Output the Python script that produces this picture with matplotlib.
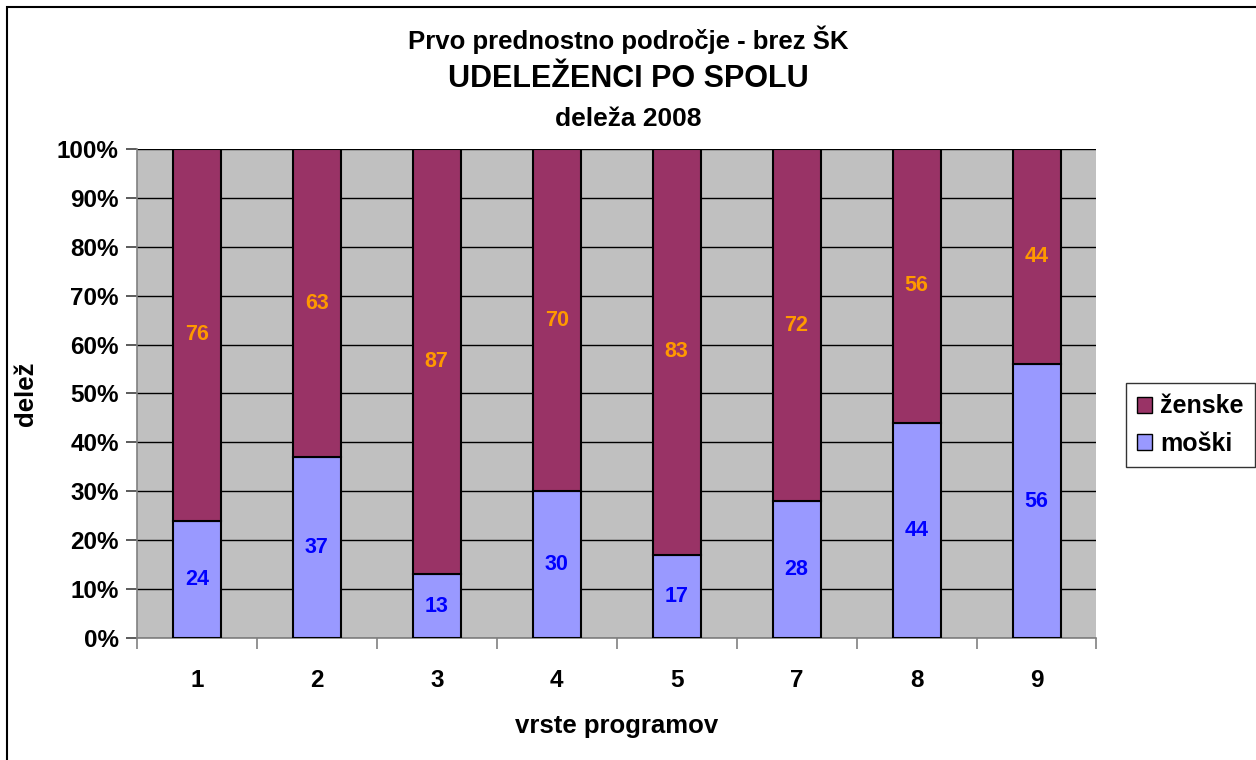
import numpy as np
from matplotlib import pyplot as plt
from matplotlib.patches import Rectangle
from matplotlib.ticker import PercentFormatter

plt.rcParams['font.family'] = ['Liberation Sans', 'DejaVu Sans']
plt.rcParams['font.weight'] = 'bold'

categories = ['1', '2', '3', '4', '5', '7', '8', '9']
moski = [24, 37, 13, 30, 17, 28, 44, 56]
zenske = [76, 63, 87, 70, 83, 72, 56, 44]

MOSKI_COLOR = '#9999FF'
ZENSKE_COLOR = '#993366'


def main():
    m = np.array(moski, dtype=float)
    z = np.array(zenske, dtype=float)
    total = m + z
    m_share = m / total * 100
    z_share = z / total * 100
    x = np.arange(len(categories))

    fig = plt.figure(figsize=(12.56, 7.6), dpi=100)
    ax = fig.add_axes([0.109, 0.1605, 0.764, 0.6435])
    ax.set_facecolor('#C0C0C0')

    # stolpci
    b1 = ax.bar(x, m_share, width=0.4, color=MOSKI_COLOR, edgecolor='black',
                linewidth=1.5, label='moški', zorder=3)
    b2 = ax.bar(x, z_share, width=0.4, bottom=m_share, color=ZENSKE_COLOR,
                edgecolor='black', linewidth=1.5, label='ženske', zorder=3)

    # oznake vrednosti
    for xi, ms, zs, mv, zv in zip(x, m_share, z_share, moski, zenske):
        ax.text(xi, ms / 2, str(mv), ha='center', va='center',
                color='#0000FF', fontsize=15.5, fontweight='bold', zorder=4)
        ax.text(xi, ms + zs / 2, str(zv), ha='center', va='center',
                color='#FF9900', fontsize=15.5, fontweight='bold', zorder=4)

    ax.set_xlim(-0.5, len(categories) - 0.5)
    ax.set_ylim(0, 100)
    ax.set_yticks(np.arange(0, 101, 10))
    ax.yaxis.set_major_formatter(PercentFormatter(decimals=0))
    ax.yaxis.grid(True, color='black', linewidth=1.0, zorder=1)
    ax.set_axisbelow(True)

    ax.set_xticks(x)
    ax.set_xticklabels(categories)
    ax.set_xticks(np.arange(-0.5, len(categories), 1), minor=True)
    ax.tick_params(axis='x', which='major', length=0, pad=22, labelsize=17.5)
    ax.tick_params(axis='x', which='minor', length=8, color='#808080', width=1.2)
    ax.tick_params(axis='y', length=8, color='#404040', width=1.2, labelsize=17.5, pad=5)

    for side in ['top', 'right']:
        ax.spines[side].set_visible(False)
    ax.spines['left'].set_color('#808080')
    ax.spines['bottom'].set_color('#808080')
    ax.spines['left'].set_linewidth(1.2)
    ax.spines['bottom'].set_linewidth(1.2)

    ax.set_xlabel('vrste programov', fontsize=18.5, fontweight='bold', labelpad=16)
    ax.set_ylabel('delež', fontsize=18.5, fontweight='bold', labelpad=14)

    fig.text(0.5, 0.948, 'Prvo prednostno področje - brez ŠK', ha='center',
             va='center', fontsize=18.5, fontweight='bold')
    fig.text(0.5, 0.896, 'UDELEŽENCI PO SPOLU', ha='center', va='center',
             fontsize=22, fontweight='bold')
    fig.text(0.5, 0.843, 'deleža 2008', ha='center', va='center',
             fontsize=19, fontweight='bold')

    leg = ax.legend(handles=[b2, b1], labels=['ženske', 'moški'],
                    loc='center left', bbox_to_anchor=(1.031, 0.435),
                    fontsize=18, frameon=True, fancybox=False,
                    handlelength=0.6, handleheight=0.6, handletextpad=0.3,
                    borderpad=0.45, labelspacing=0.55, borderaxespad=0)
    leg.get_frame().set_edgecolor('black')
    leg.get_frame().set_linewidth(1.0)
    for h in leg.legend_handles:
        h.set_linewidth(1.0)

    # okvir grafikona
    fig.patches.append(Rectangle((7 / 1256, -0.02), 1.1, 1.02 - 7 / 760,
                                 transform=fig.transFigure, fill=False,
                                 edgecolor='black', linewidth=1.5))

    fig.savefig('out.png', dpi=100)


if __name__ == '__main__':
    main()
